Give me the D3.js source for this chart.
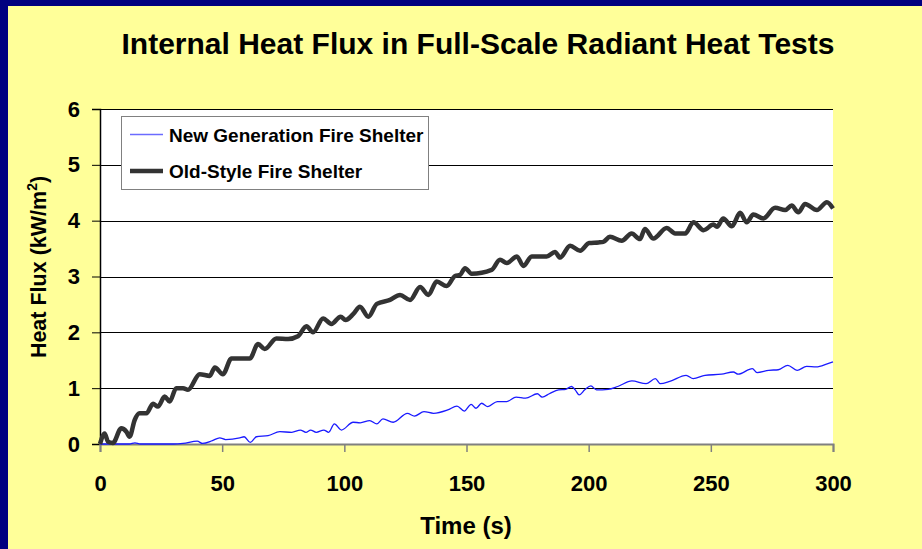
<!DOCTYPE html>
<html>
<head>
<meta charset="utf-8">
<script src="https://cdn.jsdelivr.net/npm/d3@7"></script>
<style>
  body { margin: 0; background: #000080; }
  svg { display: block; font-family: "Liberation Sans", Arial, sans-serif; font-weight: bold; }
</style>
</head>
<body>
<div id="chart"></div>
<script>
/* chart data */
const yTicks = [0, 1, 2, 3, 4, 5, 6];
const xTicks = [0, 50, 100, 150, 200, 250, 300];

const oldTime = [0, 1.9, 3.3, 5.3, 8.7, 10.8, 12.1, 14.2, 16.2, 19, 21.7, 23.7, 26.5, 28.5, 31.2, 34, 36,
  40.8, 44.9, 47, 50.3, 53.8, 61.3, 64.7, 67.4, 72.2, 77, 81, 84.5, 87.2, 91.3, 94.7, 98.5, 100.5,
  103.7, 106.4, 109.8, 113.3, 118.7, 122.8, 126.9, 131, 134.4, 137.8, 141.9, 145.3, 147.4, 149.4,
  152.1, 160.3, 163.7, 166.5, 170.6, 173.3, 176.7, 182.8, 186.2, 188.3, 192.4, 196.5, 200.2, 204,
  206, 208.7, 213.5, 217.6, 221, 223, 226.5, 231.9, 235.4, 239.5, 242.9, 247, 251.1, 252.5, 255.1,
  258.6, 262, 264.7, 267.4, 271.5, 276.3, 280.4, 283.1, 285.8, 288.6, 293.4, 297.5, 300];
const oldFlux = [0, 0.19, 0.04, 0.02, 0.28, 0.22, 0.13, 0.43, 0.55, 0.55, 0.72, 0.67, 0.85, 0.76, 1.0, 1.0, 0.97,
  1.25, 1.22, 1.37, 1.25, 1.53, 1.53, 1.79, 1.7, 1.89, 1.88, 1.93, 2.11, 2.0, 2.25, 2.15, 2.28, 2.22,
  2.33, 2.46, 2.28, 2.51, 2.58, 2.67, 2.58, 2.81, 2.67, 2.91, 2.83, 3.01, 3.03, 3.15,
  3.05, 3.12, 3.3, 3.24, 3.36, 3.19, 3.36, 3.36, 3.44, 3.34, 3.55, 3.46, 3.6, 3.61,
  3.62, 3.71, 3.64, 3.77, 3.67, 3.85, 3.68, 3.87, 3.77, 3.77, 3.97, 3.83, 3.93, 3.89, 4.04,
  3.9, 4.14, 3.97, 4.11, 4.04, 4.23, 4.19, 4.27, 4.15, 4.3, 4.19, 4.33, 4.22];

const newTime = [0, 8, 12, 14.3, 16.5, 22, 30, 34, 39.8, 42, 46, 49, 51.4, 57.2, 59, 61.5, 64, 68.8, 73.6,
  78.5, 82, 84.3, 86.2, 88.5, 91.6, 93.6, 95.9, 98.8, 103.6, 106.5, 110.4, 113.3, 115.8, 120,
  125.8, 128.7, 132.6, 136.5, 142.3, 146.1, 149.1, 151.9, 153.9, 156.2, 158.7, 162.6, 166.5,
  170.3, 174.2, 179, 181, 183.9, 187.7, 190.6, 193, 194.5, 196.1, 198.4, 200.9, 203.2, 208,
  211.9, 217.7, 223.5, 227.3, 229.3, 233.2, 239.9, 242.8, 247.6, 254.4, 259.2, 261.2, 267,
  268.9, 273.7, 277.6, 281.5, 285.3, 289.2, 293.1, 297.9, 300];
const newFlux = [0, 0, 0, 0.02, 0, 0, 0, 0.01, 0.05, 0.01, 0.06, 0.11, 0.08, 0.11, 0.13, 0.03, 0.13, 0.15, 0.22,
  0.21, 0.25, 0.21, 0.25, 0.21, 0.25, 0.21, 0.36, 0.25, 0.39, 0.38, 0.42, 0.36, 0.45, 0.39,
  0.55, 0.5, 0.58, 0.55, 0.61, 0.68, 0.59, 0.71, 0.64, 0.73, 0.67, 0.76, 0.76,
  0.84, 0.82, 0.9, 0.84, 0.9, 0.97, 0.98, 1.03, 0.97, 0.88, 0.97, 1.04, 0.97, 0.98,
  1.03, 1.13, 1.08, 1.17, 1.08, 1.12, 1.23, 1.17, 1.23, 1.25, 1.29, 1.25, 1.35,
  1.28, 1.32, 1.33, 1.41, 1.32, 1.39, 1.38, 1.44, 1.47];

const seriesNames = ["New Generation Fire Shelter", "Old-Style Fire Shelter"];

/* layout */
const W = 922, H = 549;
const plot = { left: 100, top: 109, right: 833, bottom: 444 };

const svg = d3.select("#chart").append("svg").attr("width", W).attr("height", H);

svg.append("rect").attr("width", W).attr("height", H).attr("fill", "#000080");
svg.append("rect").attr("x", 8).attr("y", 6).attr("width", W - 8).attr("height", H - 6).attr("fill", "#ffff99");

const x = d3.scaleLinear().domain([0, 300]).range([plot.left, plot.right]);
const y = d3.scaleLinear().domain([0, 6]).range([plot.bottom, plot.top]);

svg.append("rect")
  .attr("x", plot.left).attr("y", plot.top)
  .attr("width", plot.right - plot.left).attr("height", plot.bottom - plot.top)
  .attr("fill", "#fff");

/* gridlines */
svg.append("g").selectAll("line")
  .data(yTicks.filter(d => d > 0))
  .join("line")
  .attr("x1", plot.left).attr("x2", plot.right)
  .attr("y1", d => Math.round(y(d)) + 0.5).attr("y2", d => Math.round(y(d)) + 0.5)
  .attr("stroke", "#000").attr("stroke-width", 1);

/* y axis */
const yAxis = svg.append("g")
  .attr("transform", `translate(${plot.left},0)`)
  .call(d3.axisLeft(y).tickValues(yTicks).tickFormat(d3.format("d")).tickSize(8).tickPadding(12));
yAxis.select(".domain").attr("stroke", "#000").attr("stroke-width", 1.5);
yAxis.selectAll(".tick line").attr("stroke", "#000");
yAxis.selectAll("text").attr("font-size", 22).attr("fill", "#000").attr("font-family", "Liberation Sans, Arial, sans-serif");

/* x axis */
const xAxis = svg.append("g")
  .attr("transform", `translate(0,${plot.bottom})`)
  .call(d3.axisBottom(x).tickValues(xTicks).tickFormat(d3.format("d")).tickSize(8).tickPadding(23));
xAxis.select(".domain").attr("stroke", "#808080").attr("stroke-width", 2);
xAxis.selectAll(".tick line").attr("stroke", "#808080").attr("stroke-width", 1.5);
xAxis.selectAll("text").attr("font-size", 22).attr("fill", "#000").attr("font-family", "Liberation Sans, Arial, sans-serif");

/* series */
const line = d3.line().curve(d3.curveMonotoneX);

svg.append("path")
  .datum(newTime.map((t, i) => [x(t), y(newFlux[i])]))
  .attr("d", line)
  .attr("fill", "none")
  .attr("stroke", "#1a1aff")
  .attr("stroke-width", 1.3);

svg.append("path")
  .datum(oldTime.map((t, i) => [x(t), y(oldFlux[i])]))
  .attr("d", line)
  .attr("fill", "none")
  .attr("stroke", "#333")
  .attr("stroke-width", 4.5)
  .attr("stroke-linejoin", "round");

/* legend */
const legend = svg.append("g");
legend.append("rect")
  .attr("x", 121.5).attr("y", 116.5).attr("width", 307).attr("height", 73)
  .attr("fill", "#fff").attr("stroke", "#808080").attr("stroke-width", 1);
const legStyles = [{ c: "#6b6bff", w: 1.5 }, { c: "#333", w: 4.5 }];
seriesNames.forEach((name, i) => {
  const ly = 134.5 + i * 36.5;
  legend.append("line")
    .attr("x1", 130).attr("x2", 163).attr("y1", ly).attr("y2", ly)
    .attr("stroke", legStyles[i].c).attr("stroke-width", legStyles[i].w);
  legend.append("text")
    .attr("x", 169).attr("y", ly + 7)
    .attr("font-size", 19)
    .text(name);
});

/* titles */
svg.append("text")
  .attr("x", 478).attr("y", 54)
  .attr("text-anchor", "middle")
  .attr("font-size", 30)
  .text("Internal Heat Flux in Full-Scale Radiant Heat Tests");

svg.append("text")
  .attr("x", 466).attr("y", 534)
  .attr("text-anchor", "middle")
  .attr("font-size", 24)
  .text("Time (s)");

const yl = svg.append("text")
  .attr("transform", "translate(46,267) rotate(-90)")
  .attr("text-anchor", "middle")
  .attr("font-size", 21.5);
yl.append("tspan").text("Heat Flux (kW/m");
yl.append("tspan").attr("font-size", 14).attr("dy", -9).text("2");
yl.append("tspan").attr("dy", 9).text(")");
</script>
</body>
</html>
